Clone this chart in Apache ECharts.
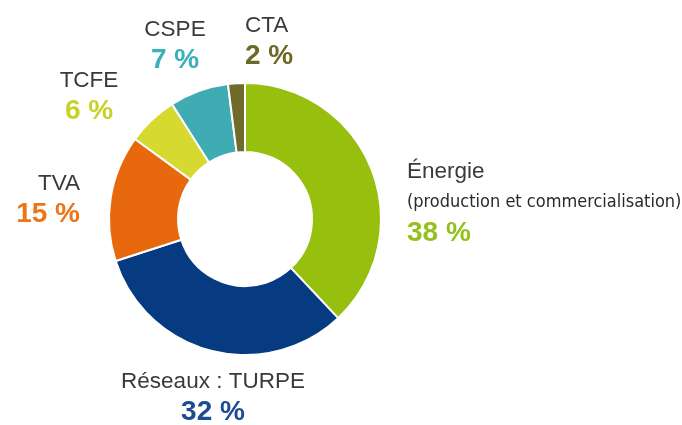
<!DOCTYPE html>
<html>
<head>
<meta charset="utf-8">
<script src="https://cdn.jsdelivr.net/npm/echarts@6/dist/echarts.min.js"></script>
<style>
  html, body { margin: 0; padding: 0; background: #fff; }
  #chart { width: 682px; height: 425px; }
</style>
</head>
<body>
<div id="chart"></div>
<script>
// données : répartition de la facture
var names = ['Énergie', 'Réseaux : TURPE', 'TVA', 'TCFE', 'CSPE', 'CTA'];
var notes = ['(production et commercialisation)', '', '', '', '', ''];
var values = [38, 32, 15, 6, 7, 2];
var sliceColors = ['#97bf0d', '#063a81', '#e8680e', '#d5d930', '#3fabb3', '#6e6b2b'];
var textColors = ['#95c11f', '#1d4b94', '#ee7418', '#c8d12c', '#3ab0b8', '#6d6a28'];

var fontFamily = '"Liberation Sans", Arial, sans-serif';

// position des étiquettes (x, haut du bloc, alignement)
var labelPlaces = [
  {x: 407, y: 157, align: 'left'},
  {x: 213, y: 367, align: 'center'},
  {x: 80, y: 169, align: 'right'},
  {x: 89, y: 66, align: 'center'},
  {x: 175, y: 15, align: 'center'},
  {x: 245, y: 11, align: 'left'}
];

var rich = {
  n: {fontSize: 22.5, color: '#3a3a3a', lineHeight: 30, fontFamily: fontFamily},
  s: {fontSize: 18, color: '#2a2a2a', lineHeight: 31,
      fontFamily: '"DejaVu Sans Condensed", sans-serif'}
};
textColors.forEach(function (c, i) {
  rich['v' + i] = {fontSize: 28, fontWeight: 'bold', color: c, lineHeight: 30, fontFamily: fontFamily};
});

var pieData = names.map(function (n, i) {
  return {name: n, value: values[i], itemStyle: {color: sliceColors[i]}};
});

var chart = echarts.init(document.getElementById('chart'), null, {renderer: 'canvas'});
var option = {
  animation: false,
  series: [
    {
      type: 'pie',
      center: [245, 219],
      radius: [67, 136],
      startAngle: 90,
      clockwise: true,
      avoidLabelOverlap: false,
      itemStyle: {borderColor: '#fff', borderWidth: 2},
      emphasis: {disabled: true},
      labelLine: {show: false},
      label: {
        show: true,
        position: 'outside',
        overflow: 'none',
        formatter: function (p) {
          var i = p.dataIndex;
          var txt = '{n|' + p.name + '}';
          if (notes[i]) {
            txt += '\n{s|' + notes[i] + '}';
          }
          return txt + '\n{v' + i + '|' + p.value + ' %}';
        },
        rich: rich
      },
      labelLayout: function (params) {
        var pl = labelPlaces[params.dataIndex];
        return {x: pl.x, y: pl.y, align: pl.align, verticalAlign: 'top'};
      },
      data: pieData
    }
  ]
};
chart.setOption(option);
</script>
</body>
</html>
